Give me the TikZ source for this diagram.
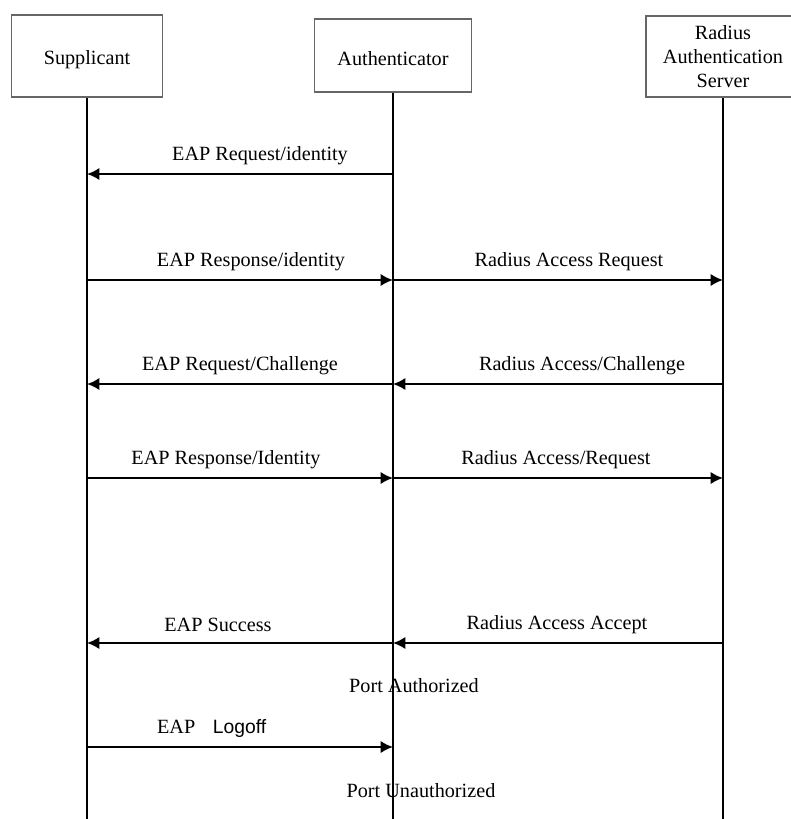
\documentclass[tikz,border=0pt]{standalone}
\usepackage{fontspec}
\setmainfont{Liberation Serif}
\newfontfamily\arialfont{Liberation Sans}
\usetikzlibrary{arrows.meta, positioning}
\tikzset{
  party/.style    = {draw=black!60, line width=1pt, align=center,
                     font=\fontsize{11.5}{13.6}\selectfont, inner sep=2pt},
  lifeline/.style = {line width=1.2pt},
  msg/.style      = {-{Latex[length=7pt,width=7pt]}, line width=1.2pt},
  msglabel/.style = {font=\fontsize{11.5}{13.6}\selectfont, inner sep=1pt},
}

\begin{document}
\begin{tikzpicture}[x=0.02cm, y=-0.02cm]
\useasboundingbox (0,0) rectangle (791,819);
% the three parties
\node[party, minimum width=3.02cm, minimum height=1.64cm] (sup) at (87,56) {\rule{0pt}{12.6pt}Supplicant};
\node[party, minimum width=3.14cm, minimum height=1.46cm] (aut) at (393,55.5) {\rule{0pt}{11.8pt}Authenticator};
\node[party, minimum width=3.08cm, minimum height=1.62cm] (rad) at (723,56.5) {Radius\\Authentication\\Server};
\coordinate (sup-end) at (sup.south |- 0,819);
\coordinate (aut-end) at (aut.south |- 0,819);
\coordinate (rad-end) at (rad.south |- 0,819);
\draw[lifeline] (sup.south) -- (sup-end);
\draw[lifeline] (aut.south) -- (aut-end);
\draw[lifeline] (rad.south) -- (rad-end);
% points on the lifelines
\foreach \y in {174,280,384,478,643,747} {
    \coordinate (sup-\y) at (sup.south |- 0,\y);
    \coordinate (aut-\y) at (aut.south |- 0,\y);
    \coordinate (rad-\y) at (rad.south |- 0,\y);
}
% messages
\foreach \a/\b/\y/\lx/\txt in {
    aut/sup/174/260/{EAP Request/identity},
    sup/aut/280/251/{EAP Response/identity},
    aut/rad/280/569/{Radius Access Request},
    aut/sup/384/240/{EAP Request/Challenge},
    rad/aut/384/582/{Radius Access/Challenge},
    sup/aut/478/226/{EAP Response/Identity},
    aut/rad/478/556/{Radius Access/Request},
    aut/sup/643/218/{EAP Success},
    rad/aut/643/557/{Radius Access Accept}
}{
    \draw[msg] (\a-\y) -- (\b-\y);
    \node[msglabel] (lbl-\a-\b-\y) at (\lx,\y-18) {\txt};
}
\draw[msg] (sup-747) -- (aut-747);
\node[msglabel, anchor=west] (lbl-logoff) at (155,729) {EAP\hspace{10pt}{\arialfont\fontsize{11}{13}\selectfont Logoff}};
% port states
\node[msglabel] (authorized) at (414,686) {Port Authorized};
\node[msglabel] (unauthorized) at (421,791) {Port Unauthorized};
\end{tikzpicture}
\end{document}
